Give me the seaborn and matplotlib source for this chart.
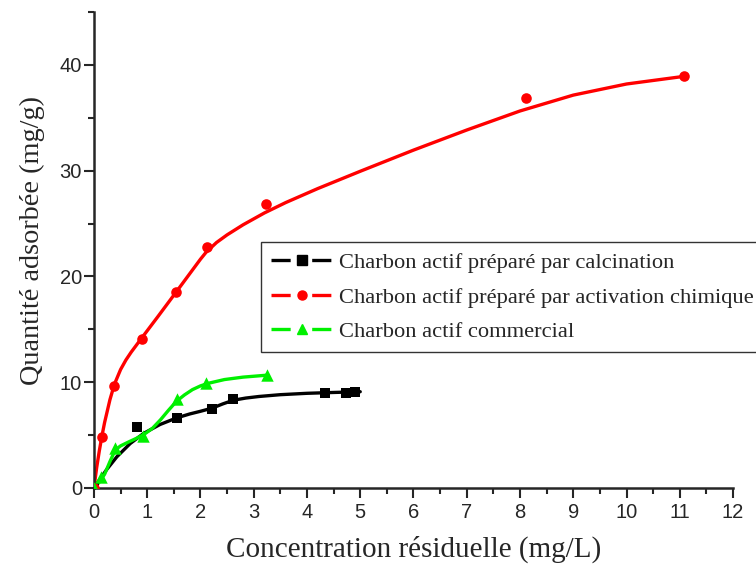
import seaborn as sns
import matplotlib.pyplot as plt
from matplotlib.lines import Line2D

# points expérimentaux
calc_x = [0, 0.81, 1.56, 2.22, 2.61, 4.33, 4.74, 4.90]
calc_y = [0, 5.8, 6.65, 7.5, 8.4, 9.0, 9.0, 9.05]
chim_x = [0, 0.15, 0.37, 0.9, 1.54, 2.12, 3.23, 8.11, 11.08]
chim_y = [0, 4.8, 9.6, 14.1, 18.5, 22.8, 26.8, 36.9, 38.9]
comm_x = [0, 0.14, 0.39, 0.92, 1.55, 2.11, 3.25]
comm_y = [0, 1.0, 3.75, 4.9, 8.45, 9.93, 10.66]

# courbes ajustées
calc_fit_x = [0, 0.1, 0.24, 0.43, 0.68, 0.93, 1.24, 1.55, 1.8, 2.0, 2.22, 2.42, 2.62,
              2.85, 3.1, 3.5, 4.0, 4.5, 5.0]
calc_fit_y = [0, 0.75, 1.75, 2.95, 4.2, 5.15, 6.0, 6.62, 7.0, 7.25, 7.55, 7.95, 8.3,
              8.5, 8.65, 8.82, 8.95, 9.03, 9.1]
chim_fit_x = [0, 0.05, 0.1, 0.15, 0.2, 0.3, 0.37, 0.4, 0.5, 0.6, 0.7, 0.9, 1.2, 1.54,
              1.8, 2.0, 2.1, 2.3, 2.5, 2.8, 3.2, 3.6, 4.2, 5.0, 6.0, 7.0, 8.0, 9.0,
              10.0, 11.06]
chim_fit_y = [0, 1.9, 3.5, 4.93, 6.2, 8.35, 9.56, 10.0, 11.2, 12.1, 12.85, 14.2, 16.2,
              18.5, 20.27, 21.63, 22.25, 23.2, 23.93, 24.88, 26.0, 26.98, 28.3, 29.94,
              31.94, 33.84, 35.64, 37.14, 38.19, 38.9]
comm_fit_x = [0, 0.1, 0.2, 0.3, 0.4, 0.5, 0.65, 0.8, 0.95, 1.1, 1.25, 1.4, 1.55, 1.7,
              1.85, 2.0, 2.15, 2.45, 2.8, 3.24]
comm_fit_y = [0, 0.55, 1.3, 2.5, 3.6, 3.98, 4.35, 4.7, 5.1, 5.65, 6.45, 7.35, 8.2, 8.8,
              9.3, 9.65, 9.9, 10.25, 10.48, 10.66]

labels = ["Charbon actif préparé par calcination",
          "Charbon actif préparé par activation chimique",
          "Charbon actif commercial"]

sns.set_style("ticks")
plt.rcParams['font.family'] = ['Liberation Sans', 'DejaVu Sans']
plt.rcParams['lines.scale_dashes'] = False

fig = plt.figure(figsize=(7.56, 5.7), dpi=100)
ax = fig.add_axes([0.1243, 0.1439, 0.8453, 0.8351])

series = [
    (calc_fit_x, calc_fit_y, calc_x, calc_y, "black", "s", 45),
    (chim_fit_x, chim_fit_y, chim_x, chim_y, "#ff0000", "o", 58),
    (comm_fit_x, comm_fit_y, comm_x, comm_y, "#00f000", "^", 80),
]
handles = []
for fx, fy, px, py, col, mk, sz in series:
    sns.lineplot(x=fx, y=fy, color=col, linewidth=2.4, sort=False, estimator=None, ax=ax,
                 solid_joinstyle="round")
    sns.scatterplot(x=px, y=py, color=col, marker=mk, s=sz, linewidth=0, ax=ax, zorder=3)
    handles.append((Line2D([], [], color=col, linewidth=2.4, dashes=(13.8, 15.5)),
                    Line2D([], [], color=col, marker=mk, linestyle="none", markersize=6.5)))

ax.set_xlim(0, 12)
ax.set_ylim(0, 45)
ax.set_xticks(range(0, 13))
ax.set_xticks([i + 0.5 for i in range(12)], minor=True)
ax.set_yticks([0, 10, 20, 30, 40])
ax.set_yticks([5, 15, 25, 35, 45], minor=True)
ax.tick_params(which="major", length=7.2, width=1.5, labelsize=14.5, direction="out")
ax.tick_params(axis="x", which="major", pad=3.5)
ax.tick_params(axis="y", which="major", pad=1.5)
ax.tick_params(which="minor", length=4, width=1.5, direction="out")
for s in ["left", "bottom"]:
    ax.spines[s].set_linewidth(1.8)
sns.despine(ax=ax)

ax.set_xlabel("Concentration résiduelle (mg/L)", family="Liberation Serif", fontsize=21, labelpad=10)
ax.set_ylabel("Quantité adsorbée (mg/g)", family="Liberation Serif", fontsize=20.3)
ax.yaxis.set_label_coords(-0.076, 0.519)

leg = ax.legend(handles, labels, loc="upper left", bbox_to_anchor=(0.2613, 0.5168),
                prop={"family": "Liberation Serif", "size": 16.2}, frameon=True, fancybox=False,
                edgecolor="black", handlelength=2.75, handletextpad=0.27, borderpad=0.45,
                labelspacing=0.62, borderaxespad=0)
leg.get_frame().set_linewidth(1.0)

fig.savefig("out.png", dpi=100)
